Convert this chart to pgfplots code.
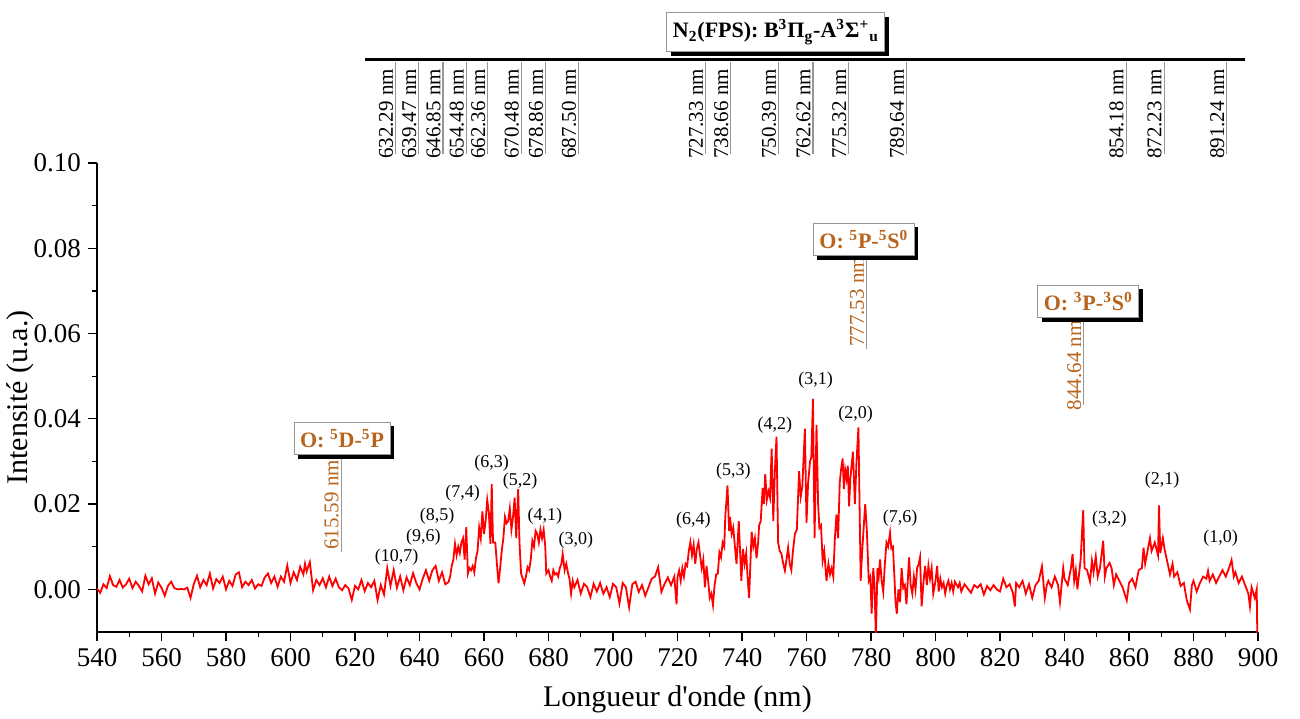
\documentclass[border=0pt]{standalone}
\usepackage{fontspec}
\setmainfont{Liberation Serif}
\usepackage{pgfplots}
\pgfplotsset{compat=1.18}
\usetikzlibrary{shadows}
\definecolor{obrown}{RGB}{184,100,28}
\definecolor{lgray}{RGB}{150,150,150}
\tikzset{
 obox/.style={draw=lgray, fill=white, line width=0.5pt,
   drop shadow={shadow xshift=2pt, shadow yshift=-2pt, fill=black, opacity=1},
   font=\bfseries\fontsize{11}{13}\selectfont, text=obrown, inner xsep=3pt, inner ysep=3.5pt},
 blab/.style={font=\fontsize{9}{10}\selectfont, inner sep=0pt},
}
\newcommand{\toplab}[2]{%
  \draw[lgray, line width=0.6pt] (axis cs:#1,0.1237) -- (axis cs:#1,0.1021);
  \node[rotate=90, anchor=south east, inner sep=1pt, font=\fontsize{10.5}{12}\selectfont] at (axis cs:#1,0.1226) {#2 nm};}
\begin{document}
\begin{tikzpicture}
\begin{axis}[
 scale only axis, width=580.5pt, height=234.5pt, at={(0,0)}, anchor=south west,
 xmin=540, xmax=900, ymin=-0.01, ymax=0.10,
 axis x line*=bottom, axis y line*=left,
 axis line style={-, line width=0.6pt},
 xtick={540,560,...,900}, ytick={0,0.02,0.04,0.06,0.08,0.10},
 minor x tick num=1, minor y tick num=1,
 tick align=outside, major tick length=4.5pt, minor tick length=2.5pt,
 tick style={black, line width=0.6pt},
 scaled y ticks=false,
 /pgf/number format/assume math mode=true,
 yticklabel style={/pgf/number format/.cd, fixed, fixed zerofill, precision=2},
 tick label style={font=\fontsize{13.5}{15}\selectfont},
 label style={font=\fontsize{15}{17}\selectfont},
 xlabel={Longueur d\textquotesingle onde (nm)}, ylabel={Intensité (u.a.)},
 xlabel style={at={(axis description cs:0.5,0)}, anchor=center, yshift=-33.5pt},
 ylabel style={at={(axis description cs:0,0.5)}, anchor=center, yshift=38.5pt},
 clip mode=individual,
]
\addplot[red, line width=0.9pt] table {
x y
540 0.0002
541 -0.0008
542 0.0012
543 0.0003
544 0.0031
545 0.0010
546 0.0006
547 0.0022
548 0.0004
549 0.0012
550 0.0025
551 0.0003
552 0.0018
553 0.0008
554 -0.0005
555 0.0032
556 0.0012
557 0.0026
558 -0.0010
559 0.0016
560 0.0004
561 -0.0015
562 0.0008
563 0.0018
564 0.0003
565 0.0000
566 0.0001
567 0.0000
568 0.0004
569 -0.0020
570 0.0012
571 0.0032
572 0.0005
573 0.0022
574 0.0010
575 0.0037
576 0.0002
577 0.0024
578 0.0015
579 0.0030
580 0.0000
581 0.0020
582 0.0008
583 0.0035
584 0.0040
585 0.0005
586 0.0018
587 0.0010
588 0.0022
589 0.0002
590 0.0012
591 0.0008
592 0.0028
593 0.0037
594 0.0015
595 0.0030
596 0.0006
597 0.0030
598 0.0018
599 0.0056
600 0.0015
601 0.0040
602 0.0022
603 0.0053
604 0.0035
604.5 0.0060
605 0.0042
606 0.0064
607 -0.0002
608 0.0022
609 0.0010
610 0.0026
611 0.0005
612 0.0030
613 0.0008
614 0.0025
615 0.0005
616 -0.0002
617 0.0010
618 0.0002
619 -0.0025
620 0.0008
621 0.0000
622 0.0022
623 -0.0004
624 0.0015
625 0.0005
626 0.0020
627 -0.0025
628 0.0010
629 -0.0012
630 0.0050
631 0.0008
632 0.0045
633 0.0004
634 0.0030
635 -0.0002
636 0.0028
637 0.0010
638 0.0038
639 0.0015
640 0.0000
641 0.0025
642 0.0045
643 0.0020
644 0.0045
645 0.0055
646 0.0020
647 0.0040
648 0.0012
649 0.0017
649.5 0.0030
650 0.0055
650.5 0.0070
651 0.0107
651.5 0.0080
652 0.0100
652.5 0.0085
653 0.0110
653.5 0.0120
654 0.0070
654.5 0.0146
655 0.0037
655.5 0.0050
656 0.0045
656.5 0.0055
657 0.0040
657.5 0.0073
658 0.0090
658.5 0.0145
659 0.0120
659.5 0.0183
660 0.0130
660.5 0.0160
661 0.0210
661.5 0.0180
662 0.0107
662.4 0.0247
662.8 0.0110
663.5 0.0110
664 0.0060
664.5 0.0014
665 0.0050
665.5 0.0090
666 0.0120
666.5 0.0170
667 0.0155
667.5 0.0160
668 0.0190
668.5 0.0140
669 0.0170
669.5 0.0215
670 0.0120
670.6 0.0235
671 0.0110
671.5 0.0037
672 0.0025
672.5 0.0014
673 0.0030
673.5 0.0052
674 0.0045
674.5 0.0070
675 0.0114
675.5 0.0100
676 0.0137
676.5 0.0130
677 0.0110
677.5 0.0140
678 0.0120
678.5 0.0140
679 0.0100
679.3 0.0037
680 0.0045
680.5 0.0030
681 0.0020
681.5 0.0045
682 0.0035
682.5 0.0038
683 0.0030
683.5 0.0050
684 0.0060
684.4 0.0083
685 0.0045
685.5 0.0060
686 0.0040
686.5 0.0025
687 -0.0010
687.5 0.0020
688 0.0005
689 0.0022
690 -0.0010
691 0.0013
692 0.0005
693 -0.0018
694 0.0013
695 -0.0005
696 0.0015
697 -0.0010
698 0.0005
699 -0.0018
700 0.0013
701 0.0005
702 -0.0033
703 0.0015
704 0.0005
705 -0.0042
706 0.0012
707 0.0018
708 -0.0006
709 0.0010
710 -0.0015
711 0.0005
712 0.0025
713 0.0030
714 0.0052
715 -0.0006
716 0.0013
717 0.0028
718 0.0010
719 0.0030
719.7 -0.0035
720 0.0029
720.5 0.0044
721 0.0020
721.5 0.0050
722 0.0030
722.5 0.0060
723 0.0055
723.5 0.0090
724 0.0111
724.5 0.0080
725 0.0105
725.5 0.0060
726 0.0095
726.5 0.0110
727 0.0080
727.5 0.0050
728 0.0070
728.5 0.0005
729 0.0055
729.5 0.0020
730 -0.0020
730.5 -0.0010
731 -0.0037
731.5 0.0010
732 0.0035
732.5 0.0037
733 0.0087
733.5 0.0075
734 0.0110
734.5 0.0100
734.8 0.0168
735.5 0.0244
736 0.0137
736.3 0.0170
736.8 0.0130
737.3 0.0145
737.8 0.0100
738.3 0.0060
739 0.0160
739.8 0.0020
740.3 0.0095
740.8 0.0060
741.3 0.0085
741.8 0.0020
742.2 -0.0020
742.6 0.0060
743 0.0135
743.5 0.0100
744 0.0120
744.5 0.0073
745 0.0110
745.3 0.0150
745.8 0.0160
746.4 0.0238
746.8 0.0200
747.2 0.0270
747.7 0.0210
748.2 0.0230
748.7 0.0215
749.2 0.0330
749.7 0.0160
750.2 0.0280
750.7 0.0358
751.2 0.0110
751.7 0.0090
752.2 0.0084
752.8 0.0060
753.3 0.0044
753.8 0.0070
754.3 0.0098
754.8 0.0060
755.3 0.0045
755.8 0.0090
756.4 0.0130
757 0.0140
757.7 0.0277
758.2 0.0217
758.7 0.0240
759.5 0.0377
760 0.0156
760.5 0.0250
761.1 0.0300
761.5 0.0310
762 0.0447
762.5 0.0120
763.1 0.0386
763.6 0.0200
764 0.0144
764.5 0.0150
765 0.0067
765.5 0.0090
766.2 0.0020
766.8 0.0060
767.3 0.0035
767.8 0.0050
768.3 0.0030
768.8 0.0120
769.3 0.0176
769.8 0.0120
770.3 0.0250
770.7 0.0280
771.2 0.0307
771.6 0.0235
772 0.0280
772.4 0.0260
772.8 0.0290
773.2 0.0195
773.6 0.0260
774.4 0.0323
775 0.0200
775.5 0.0300
776.1 0.0380
776.8 0.0020
777.2 0.0080
777.6 0.0130
778.2 0.0200
778.7 0.0140
779.3 0.0020
779.8 0.0030
780.2 -0.0057
780.7 0.0050
781.1 0.0010
781.5 -0.0115
782 0.0050
782.4 0.0030
782.8 0.0070
783.3 0.0020
783.8 -0.0006
784.3 0.0060
784.8 0.0110
785.3 0.0100
785.9 0.0133
786.3 0.0096
786.8 0.0100
787.3 0.0023
787.6 -0.0030
788 -0.0057
788.5 0.0000
789 -0.0030
789.5 0.0050
790 0.0003
790.5 0.0010
791 -0.0035
791.8 0.0075
792.3 0.0010
792.8 -0.0010
793.3 0.0030
793.8 0.0000
794.3 0.0050
794.8 0.0060
795.2 0.0075
795.7 -0.0040
796.3 0.0020
796.8 0.0055
797.3 0.0010
797.8 0.0055
798.3 0.0025
798.8 0.0050
799.3 -0.0010
800 0.0020
800.5 0.0055
801 -0.0005
801.5 0.0025
802 0.0005
802.5 0.0015
803 -0.0010
803.5 0.0010
804 0.0020
804.5 0.0000
805 0.0015
805.5 -0.0005
806 0.0018
807 0.0005
807.5 0.0015
808 -0.0005
809 0.0012
810 0.0002
811 -0.0008
812 0.0010
813 0.0004
814 0.0012
815 -0.0012
816 0.0008
817 -0.0002
818 0.0010
819 0.0000
820 -0.0005
821 0.0025
822 0.0005
823 0.0012
824 -0.0008
824.6 -0.0040
825 0.0015
826 0.0005
827 0.0020
828 -0.0010
829 0.0012
830 -0.0020
831 0.0010
832 0.0020
833 0.0054
833.9 -0.0020
834.5 0.0010
835 0.0020
836 0.0005
837 0.0030
838 0.0010
838.6 -0.0030
839.6 0.0050
840 0.0025
841 0.0010
842 0.0050
842.5 0.0083
843 0.0020
843.5 0.0045
844 0.0000
845 0.0070
845.8 0.0186
846.2 0.0050
847 0.0045
847.9 0.0018
848.5 0.0067
849 0.0040
849.7 0.0077
850.3 0.0030
851 0.0050
852 0.0114
852.5 0.0030
853 0.0050
854 0.0062
854.6 0.0050
855.3 0.0010
856 0.0035
857 0.0020
858 0.0005
859.3 -0.0026
860 0.0015
861 0.0025
862 0.0005
863 0.0045
864 0.0050
864.5 0.0098
865 0.0060
866 0.0100
866.5 0.0120
867 0.0090
868 0.0110
869 0.0080
869.3 0.0197
869.7 0.0085
870.5 0.0120
871 0.0095
872 0.0060
872.7 0.0035
873.5 0.0060
874 0.0030
875 0.0040
876 0.0008
877 0.0015
877.9 -0.0025
878.9 -0.0047
879.5 0.0010
880 0.0020
881 -0.0005
882 0.0015
883 0.0030
884 0.0025
884.5 0.0043
885 0.0020
886 0.0035
887 0.0015
888 0.0030
889 0.0045
890 0.0030
891 0.0050
891.8 0.0069
892.5 0.0030
893 0.0040
894 0.0015
895 0.0030
896 0.0010
897 -0.0010
897.5 -0.0040
898 0.0005
899 -0.0020
899.6 0.0000
899.8 -0.0120
};
% band labels
\node[blab] at (axis cs:632.9,0.0075) {(10,7)};
\node[blab] at (axis cs:641.2,0.0122) {(9,6)};
\node[blab] at (axis cs:645.5,0.0172) {(8,5)};
\node[blab] at (axis cs:653.4,0.0226) {(7,4)};
\node[blab] at (axis cs:662.4,0.0296) {(6,3)};
\node[blab] at (axis cs:671.2,0.0253) {(5,2)};
\node[blab] at (axis cs:678.9,0.0172) {(4,1)};
\node[blab] at (axis cs:688.5,0.0116) {(3,0)};
\node[blab] at (axis cs:724.9,0.0163) {(6,4)};
\node[blab] at (axis cs:737.3,0.0278) {(5,3)};
\node[blab] at (axis cs:750.2,0.0385) {(4,2)};
\node[blab] at (axis cs:762.8,0.0490) {(3,1)};
\node[blab] at (axis cs:775.2,0.0412) {(2,0)};
\node[blab] at (axis cs:789.0,0.0168) {(7,6)};
\node[blab] at (axis cs:853.9,0.0164) {(3,2)};
\node[blab] at (axis cs:870.3,0.0257) {(2,1)};
\node[blab] at (axis cs:888.4,0.0119) {(1,0)};
% O lines
\draw[lgray, line width=0.6pt] (axis cs:615.7,0.0305) -- (axis cs:615.7,0.0087);
\node[rotate=90, anchor=south west, inner sep=1pt, text=obrown, font=\fontsize{10.5}{12}\selectfont] at (axis cs:615.7,0.0087) {615.59 nm};
\draw[lgray, line width=0.6pt] (axis cs:778.6,0.0774) -- (axis cs:778.6,0.0563);
\node[rotate=90, anchor=south west, inner sep=1pt, text=obrown, font=\fontsize{10.5}{12}\selectfont] at (axis cs:778.6,0.0563) {777.53 nm};
\draw[lgray, line width=0.6pt] (axis cs:846.0,0.0630) -- (axis cs:846.0,0.0433);
\node[rotate=90, anchor=south west, inner sep=1pt, text=obrown, font=\fontsize{10.5}{12}\selectfont] at (axis cs:846.0,0.0415) {844.64 nm};
\node[obox] at (axis cs:616.0,0.0354) {O: \textsuperscript{5}D-\textsuperscript{5}P};
\node[obox] at (axis cs:777.8,0.0820) {O: \textsuperscript{5}P-\textsuperscript{5}S\textsuperscript{0}};
\node[obox] at (axis cs:847.4,0.0675) {O: \textsuperscript{3}P-\textsuperscript{3}S\textsuperscript{0}};
% N2 top annotations
\draw[black, line width=1.5pt] (axis cs:623.1,0.1242) -- (axis cs:896.0,0.1242);
\toplab{632.6}{632.29}
\toplab{639.8}{639.47}
\toplab{647.3}{646.85}
\toplab{654.5}{654.48}
\toplab{661.2}{662.36}
\toplab{671.6}{670.48}
\toplab{679.1}{678.86}
\toplab{689.3}{687.50}
\toplab{728.7}{727.33}
\toplab{736.5}{738.66}
\toplab{751.3}{750.39}
\toplab{762.0}{762.62}
\toplab{773.1}{775.32}
\toplab{791.0}{789.64}
\toplab{859.1}{854.18}
\toplab{870.9}{872.23}
\toplab{890.3}{891.24}
\node[obox, text=black] at (axis cs:750.5,0.1307) {N\textsubscript{2}(FPS): B\textsuperscript{3}Π\textsubscript{g}-A\textsuperscript{3}Σ\textsuperscript{+}\textsubscript{u}};
\end{axis}
\pgfresetboundingbox
\path[use as bounding box] (-48.5pt,-43pt) rectangle (601.5pt,316pt);
\end{tikzpicture}
\end{document}
